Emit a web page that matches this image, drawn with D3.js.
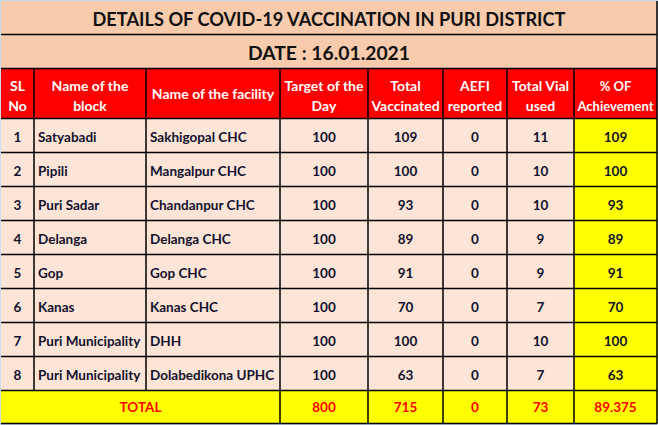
<!DOCTYPE html>
<html><head><meta charset="utf-8">
<script src="https://cdn.jsdelivr.net/npm/d3@7"></script>
<style>
html,body{margin:0;padding:0;background:#c9d9ee;}
svg{display:block;}
</style></head>
<body>
<script>
const title = "DETAILS OF COVID-19 VACCINATION IN PURI DISTRICT";
const dateLabel = "DATE : 16.01.2021";
const headers = [["SL","No"],["Name of the","block"],["Name of the facility"],["Target of the","Day"],["Total","Vaccinated"],["AEFI","reported"],["Total Vial","used"],["% OF","Achievement"]];
const slNo = [1,2,3,4,5,6,7,8];
const blocks = ["Satyabadi","Pipili","Puri Sadar","Delanga","Gop","Kanas","Puri Municipality","Puri Municipality"];
const facilities = ["Sakhigopal CHC","Mangalpur CHC","Chandanpur CHC","Delanga CHC","Gop CHC","Kanas CHC","DHH","Dolabedikona UPHC"];
const target = [100,100,100,100,100,100,100,100];
const vaccinated = [109,100,93,89,91,70,100,63];
const aefi = [0,0,0,0,0,0,0,0];
const vials = [11,10,10,9,9,7,10,7];
const achievement = [109,100,93,89,91,70,100,63];
const totalLabel = "TOTAL";
const totals = ["800","715","0","73","89.375"];

const W = 658, H = 425;
const colEdges = [1,34,146,280,368,443,507,574,657];
const font = "Lato, 'Open Sans', sans-serif";
const dark = "#12122e";

const svg = d3.select("body").append("svg").attr("width",W).attr("height",H);
svg.append("rect").attr("width",W).attr("height",H).attr("fill","#c9d9ee");

const x = d3.scaleOrdinal().domain(d3.range(9)).range(colEdges);
const top0 = 1, titleH = 33.5, dateH = 34, headH = 50, rowH = 34;
const yTitle = top0, yDate = top0 + titleH, yHead = yDate + dateH, yRows = yHead + headH;
const y = d3.scaleBand().domain(d3.range(slNo.length + 1)).range([yRows, yRows + rowH*(slNo.length+1)]).padding(0);

const g = svg.append("g");
// title & date
g.append("rect").attr("x",x(0)).attr("y",yTitle).attr("width",x(8)-x(0)).attr("height",titleH+dateH).attr("fill","#f8cbad");
g.append("text").attr("x",(x(0)+x(8))/2).attr("y",yTitle+titleH/2+1).attr("text-anchor","middle").attr("dominant-baseline","central")
 .attr("font-family",font).attr("font-weight","bold").attr("font-size",18.5).attr("fill","#111")
 .attr("textLength",473).attr("lengthAdjust","spacingAndGlyphs").text(title);
g.append("text").attr("x",(x(0)+x(8))/2).attr("y",yDate+dateH/2+1).attr("text-anchor","middle").attr("dominant-baseline","central")
 .attr("font-family",font).attr("font-weight","bold").attr("font-size",18.5).attr("fill","#111")
 .attr("textLength",162).attr("lengthAdjust","spacingAndGlyphs").text(dateLabel);

// header
g.append("rect").attr("x",x(0)).attr("y",yHead).attr("width",x(8)-x(0)).attr("height",headH).attr("fill","#ff0000");
headers.forEach((lines,i)=>{
  const cx=(x(i)+x(i+1))/2;
  const fs = i===7?13:14;
  const t=g.append("text").attr("text-anchor","middle").attr("font-family",font).attr("font-weight","bold").attr("font-size",fs).attr("fill","#fff");
  if(lines.length===1){ t.append("tspan").attr("x",cx).attr("y",yHead+headH/2).attr("dominant-baseline","central").text(lines[0]); }
  else { lines.forEach((l,k)=>t.append("tspan").attr("x",cx).attr("y",yHead+17+k*20).attr("dominant-baseline","central").text(l)); }
});

// data rows
const rows = slNo.map((s,i)=>[s,blocks[i],facilities[i],target[i],vaccinated[i],aefi[i],vials[i],achievement[i]]);
rows.forEach((r,i)=>{
  const yy=y(i);
  g.append("rect").attr("x",x(0)).attr("y",yy).attr("width",x(7)-x(0)).attr("height",y.bandwidth()).attr("fill","#fce4d6");
  g.append("rect").attr("x",x(7)).attr("y",yy).attr("width",x(8)-x(7)).attr("height",y.bandwidth()).attr("fill","#ffff00");
  r.forEach((v,c)=>{
    const left = (c===1||c===2);
    g.append("text").attr("x",left? x(c)+4 : (x(c)+x(c+1))/2).attr("y",yy+y.bandwidth()/2+1)
     .attr("text-anchor",left?"start":"middle").attr("dominant-baseline","central")
     .attr("font-family",font).attr("font-weight","bold").attr("font-size",13.5).attr("fill",dark).text(v);
  });
});
// total row
const ty=y(slNo.length);
g.append("rect").attr("x",x(0)).attr("y",ty).attr("width",x(8)-x(0)).attr("height",y.bandwidth()-1).attr("fill","#ffff00");
g.append("text").attr("x",(x(0)+x(3))/2).attr("y",ty+y.bandwidth()/2-1).attr("text-anchor","middle").attr("dominant-baseline","central")
 .attr("font-family",font).attr("font-weight","bold").attr("font-size",13.5).attr("fill","#ff0000").text(totalLabel);
totals.forEach((v,k)=>{
  const c=k+3;
  g.append("text").attr("x",(x(c)+x(c+1))/2).attr("y",ty+y.bandwidth()/2-1).attr("text-anchor","middle").attr("dominant-baseline","central")
   .attr("font-family",font).attr("font-weight","bold").attr("font-size",13.5).attr("fill","#ff0000").text(v);
});

// grid lines
const ln=(x1,y1,x2,y2)=>g.append("line").attr("x1",x1).attr("y1",y1).attr("x2",x2).attr("y2",y2).attr("stroke","#000").attr("stroke-width",1.5);
const bottom = ty + y.bandwidth() - 1;
[yDate, yHead, ...d3.range(slNo.length+1).map(i=>y(i)), bottom].forEach(v=>ln(x(0),v,x(8),v));
ln(x(8),yTitle,x(8),bottom);
d3.range(1,8).forEach(c=>{
  if(c===1||c===2) { ln(x(c),yHead,x(c),ty); }
  else ln(x(c),yHead,x(c),bottom);
});
</script>
</body></html>
